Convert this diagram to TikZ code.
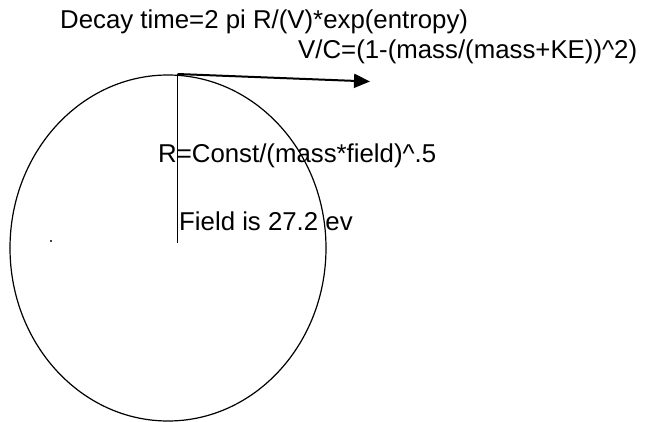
\documentclass[tikz,border=0pt]{standalone}
\usepackage{fontspec}
\setmainfont{Liberation Sans}
\usetikzlibrary{arrows.meta}
\begin{document}
\begin{tikzpicture}[x=1pt,y=-1pt,
  lbl/.style={anchor=base west,inner sep=0pt,font=\fontsize{25.8}{30}\selectfont},
  thin line/.style={line width=1.2pt},
  arrowline/.style={line width=2pt,-{Triangle[length=16pt,width=14pt]}}]
\useasboundingbox (0,0) rectangle (650,422);
% circle
\draw[thin line] (168,248) ellipse [x radius=158, y radius=173];
% texts
\node[lbl] (decay) at (60,29) {Decay time=2 pi R/(V)*exp(entropy)};
\node[lbl] (vc) at (298,59) {V/C=(1-(mass/(mass+KE))\^{}2)};
\node[lbl] (r) at (158,163) {R=Const/(mass*field)\^{}.5};
\node[lbl] (field) at (179,230) {Field is 27.2 ev};
% radius and velocity
\coordinate (top) at (177.5,74);
\coordinate (bot) at (177.5,243);
\coordinate (tip) at (370,81.5);
\draw[thin line] (top) -- (bot);
\draw[arrowline] (top) -- (tip);
% dot
\fill (51,241) circle (1.1);
\end{tikzpicture}
\end{document}
